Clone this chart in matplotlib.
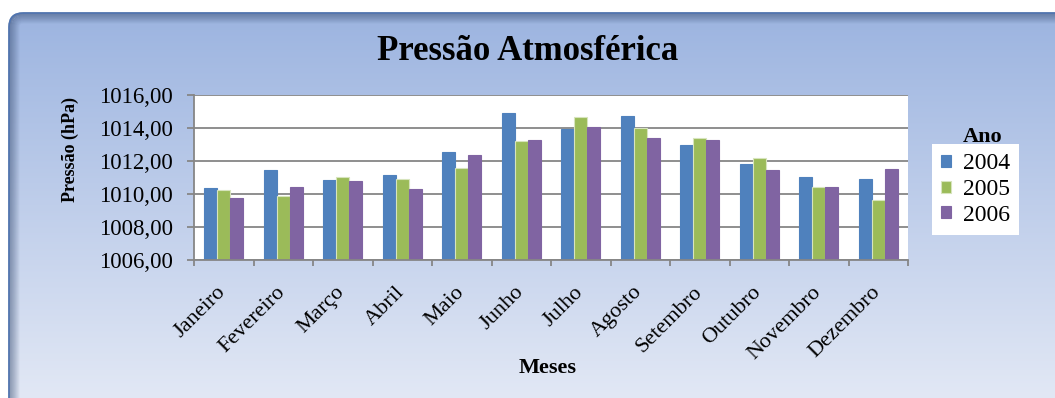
import numpy as np
import matplotlib.pyplot as plt
import matplotlib.transforms as mtransforms
from matplotlib.patches import FancyBboxPatch
from matplotlib.ticker import FuncFormatter

plt.rcParams['font.family'] = ['Liberation Serif', 'DejaVu Serif']

# Pressão média mensal (hPa)
meses = ['Janeiro', 'Fevereiro', 'Março', 'Abril', 'Maio', 'Junho',
         'Julho', 'Agosto', 'Setembro', 'Outubro', 'Novembro', 'Dezembro']
anos = ['2004', '2005', '2006']
p2004 = [1010.38, 1011.47, 1010.87, 1011.17, 1012.56, 1014.93,
         1013.94, 1014.75, 1012.99, 1011.84, 1011.05, 1010.93]
p2005 = [1010.26, 1009.92, 1011.07, 1010.95, 1011.61, 1013.21,
         1014.68, 1014.00, 1013.39, 1012.18, 1010.42, 1009.67]
p2006 = [1009.77, 1010.44, 1010.81, 1010.32, 1012.38, 1013.29,
         1014.08, 1013.41, 1013.29, 1011.47, 1010.44, 1011.53]
yticks = [1006, 1008, 1010, 1012, 1014, 1016]
cores = ['#4f81bd', '#9bbb59', '#8064a2']

W, H = 1055, 398
fig = plt.figure(figsize=(W / 100, H / 100), dpi=100)

# fundo com moldura arredondada e degradê
bg = fig.add_axes([0, 0, 1, 1], zorder=0)
bg.set_xlim(0, W)
bg.set_ylim(H, 0)
bg.axis('off')
moldura = FancyBboxPatch((9, 13), W + 40, H + 40,
                         boxstyle='round,pad=0,rounding_size=14',
                         fc='none', ec='#4f74b0', lw=1.2, zorder=3)
bg.add_patch(moldura)
topo = np.array([0x9c, 0xb4, 0xe0]) / 255
base = np.array([0xe2, 0xe8, 0xf5]) / 255
t = np.linspace(0, 1, 400)[:, None, None]
grad = topo + (base - topo) * t
img = bg.imshow(grad, extent=(9, W, H, 13), aspect='auto', zorder=1)
img.set_clip_path(moldura)
# sombra interna
for i in range(11):
    s = FancyBboxPatch((9 + i, 13 + i), W + 40, H + 40,
                       boxstyle='round,pad=0,rounding_size=%d' % max(14 - i, 3),
                       fc='none', ec='#34496e', lw=0.8,
                       alpha=0.55 * (1 - i / 11), zorder=2)
    bg.add_patch(s)

# área do gráfico
ax = fig.add_axes([194 / W, 1 - 260.3 / H, (908 - 194) / W, (260.3 - 95.3) / H], zorder=2)
ax.set_facecolor('white')
x = np.arange(len(meses))
larg = 0.22
barras = []
for k, (serie, cor) in enumerate(zip([p2004, p2005, p2006], cores)):
    ec = '#d7e4bd' if k == 1 else cor
    b = ax.bar(x + (k - 1) * larg, serie, width=larg, color=cor, edgecolor=ec, lw=0.8)
    barras.append(b)

ax.set_ylim(1006, 1016)
ax.set_xlim(-0.5, len(meses) - 0.5)
ax.set_yticks(yticks)
ax.yaxis.set_major_formatter(FuncFormatter(lambda v, p: f'{v:.2f}'.replace('.', ',')))
ax.yaxis.grid(True, color='#868686', lw=1.3)
ax.set_axisbelow(True)
for lado in ['top', 'right']:
    ax.spines[lado].set_visible(False)
for lado in ['left', 'bottom']:
    ax.spines[lado].set_color('#868686')
    ax.spines[lado].set_linewidth(1.3)
ax.tick_params(axis='y', length=5, color='#868686', width=1.3, pad=10, labelsize=16.5)

ax.set_xticks(x)
ax.set_xticklabels(meses, rotation=45, ha='right', fontsize=16)
ax.set_xticks(np.arange(-0.5, len(meses), 1), minor=True)
ax.tick_params(axis='x', which='major', length=0, pad=16)
ax.tick_params(axis='x', which='minor', length=4, color='#868686', width=1.3)
desloc = mtransforms.ScaledTranslation(0.06, 0, fig.dpi_scale_trans)
for lab in ax.get_xticklabels():
    lab.set_transform(lab.get_transform() + desloc)

fig.text(528 / W, 1 - 60 / H, 'Pressão Atmosférica', fontsize=25,
         fontweight='bold', ha='center', va='baseline')
fig.text(548 / W, 1 - 368 / H, 'Meses', fontsize=16, fontweight='bold',
         ha='center', va='center')
fig.text(70 / W, 1 - 150 / H, 'Pressão (hPa)', fontsize=13, fontweight='bold',
         rotation=90, ha='center', va='center')

# legenda
fig.text(983 / W, 1 - 142 / H, 'Ano', fontsize=16, fontweight='bold',
         ha='center', va='baseline')
fig.legend([b[0] for b in barras], anos, loc='upper left',
           bbox_to_anchor=(932 / W, 1 - 144 / H), frameon=True, facecolor='white',
           edgecolor='none', fancybox=False, framealpha=1, fontsize=17,
           handlelength=0.4, handleheight=0.4, handletextpad=0.5,
           labelspacing=0.2, borderpad=0.4, borderaxespad=0)

fig.savefig('out.png', dpi=100)
